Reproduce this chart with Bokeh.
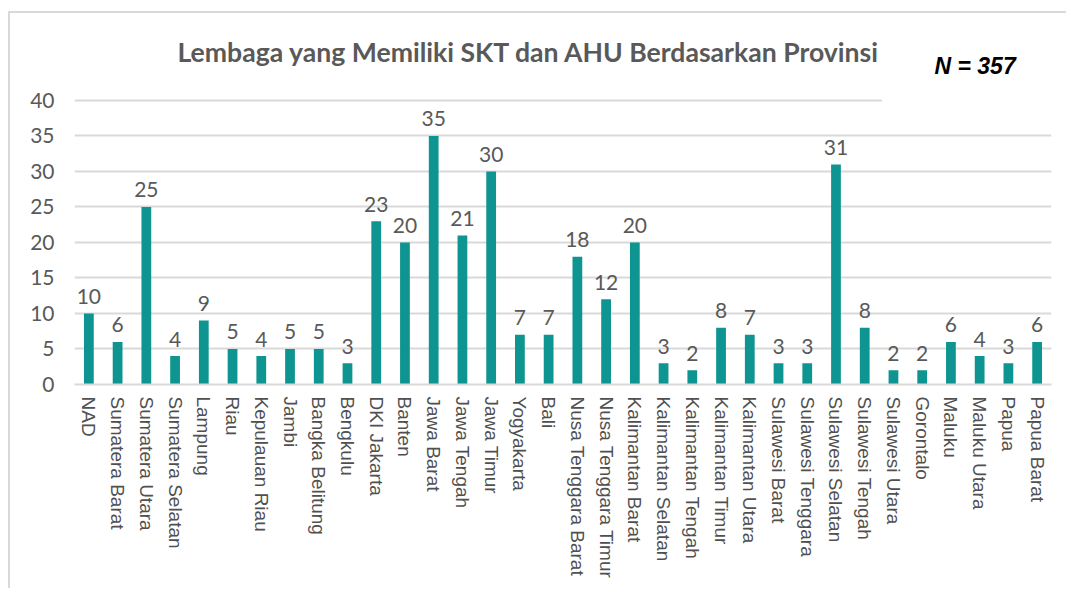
from bokeh.plotting import figure
from bokeh.models import Range1d, FixedTicker, Label, ColumnDataSource
from bokeh.core.properties import value
from bokeh.embed import file_html
from bokeh.resources import INLINE

provinces = ["NAD", "Sumatera Barat", "Sumatera Utara", "Sumatera Selatan", "Lampung", "Riau",
             "Kepulauan Riau", "Jambi", "Bangka Belitung", "Bengkulu", "DKI Jakarta", "Banten",
             "Jawa Barat", "Jawa Tengah", "Jawa Timur", "Yogyakarta", "Bali", "Nusa Tenggara Barat",
             "Nusa Tenggara Timur", "Kalimantan Barat", "Kalimantan Selatan", "Kalimantan Tengah",
             "Kalimantan Timur", "Kalimantan Utara", "Sulawesi Barat", "Sulawesi Tenggara",
             "Sulawesi Selatan", "Sulawesi Tengah", "Sulawesi Utara", "Gorontalo", "Maluku",
             "Maluku Utara", "Papua", "Papua Barat"]
counts = [10, 6, 25, 4, 9, 5, 4, 5, 5, 3, 23, 20, 35, 21, 30, 7, 7, 18, 12, 20, 3, 2, 8, 7, 3, 3,
          31, 8, 2, 2, 6, 4, 3, 6]
y_ticks = [0, 5, 10, 15, 20, 25, 30, 35, 40]
title_text = "Lembaga yang Memiliki SKT dan AHU Berdasarkan Provinsi"
n_text = "N = 357"

idx = list(range(len(provinces)))
src = ColumnDataSource(dict(x=idx, y=counts, lbl=[str(c) for c in counts]))

GRAY = "#595959"
GRID = "#d9d9d9"
BAR = "#0f9591"

p = figure(frame_width=977, frame_height=371, min_border_left=64, min_border_right=15,
           min_border_top=0, min_border_bottom=204,
           x_range=Range1d(-0.5, len(provinces) - 0.5), y_range=Range1d(0, 52.25),
           output_backend="svg", toolbar_location=None)
p.outline_line_color = None
p.background_fill_color = "white"
p.border_fill_color = "white"
p.styles = {"border-top": "2px solid #d9d9d9", "border-left": "2px solid #d9d9d9",
            "margin-top": "11px", "margin-left": "8px"}

# grid
p.xgrid.visible = False
p.ygrid.ticker = FixedTicker(ticks=y_ticks[:-1])
p.ygrid.grid_line_color = GRID
p.ygrid.grid_line_width = 2
p.segment(x0=[-0.5], x1=[27.6], y0=[y_ticks[-1]], y1=[y_ticks[-1]], line_color=GRID, line_width=2)

# bars
p.vbar(x="x", top="y", width=0.34, source=src, fill_color=BAR, line_color=None)
p.text(x="x", y="y", text="lbl", source=src, y_offset=-17, text_align="center",
       text_baseline="alphabetic", text_font=value("Lato"), text_font_size="21px",
       text_color=GRAY)

# y axis
p.yaxis.ticker = FixedTicker(ticks=y_ticks)
p.yaxis.axis_line_color = None
p.yaxis.major_tick_line_color = None
p.yaxis.minor_tick_line_color = None
p.yaxis.major_tick_out = 0
p.yaxis.major_label_standoff = 20
p.yaxis.major_label_text_font = "Lato"
p.yaxis.major_label_text_font_size = "21px"
p.yaxis.major_label_text_color = GRAY

# x axis
p.xaxis.ticker = FixedTicker(ticks=idx)
p.xaxis.major_label_overrides = {i: n for i, n in zip(idx, provinces)}
p.xaxis.major_label_orientation = "vertical"
p.xaxis.axis_line_color = GRID
p.xaxis.axis_line_width = 2
p.xaxis.major_tick_line_color = None
p.xaxis.minor_tick_line_color = None
p.xaxis.major_tick_out = 0
p.xaxis.major_label_standoff = 12
p.xaxis.major_label_text_font = "Liberation Sans"
p.xaxis.major_label_text_font_size = "19px"
p.xaxis.major_label_text_color = "#505050"

# title and N
p.add_layout(Label(x=103, y=333, x_units="screen", y_units="screen", text=title_text,
                   text_font="Lato", text_font_style="bold", text_font_size="26.6px",
                   text_color=GRAY, text_align="left", text_baseline="alphabetic"))
p.add_layout(Label(x=860, y=319, x_units="screen", y_units="screen", text=n_text,
                   text_font="Liberation Sans", text_font_style="bold italic",
                   text_font_size="23px", text_color="black", text_align="left",
                   text_baseline="alphabetic"))

open("out.html", "w").write(file_html(p, INLINE))
